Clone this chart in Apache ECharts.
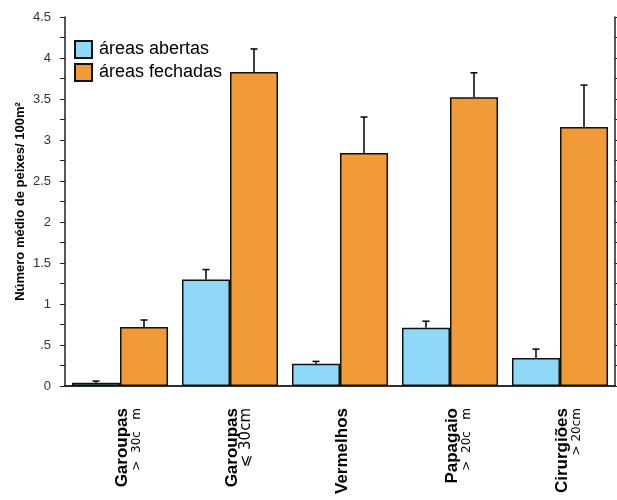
<!DOCTYPE html>
<html>
<head>
<meta charset="utf-8">
<script src="https://cdn.jsdelivr.net/npm/echarts@6/dist/echarts.min.js"></script>
<style>html,body{margin:0;padding:0;background:#fff;}#c{width:617px;height:500px;}</style>
</head>
<body>
<div id="c"></div>
<script>
const categories = ['Garoupas', 'Garoupas', 'Vermelhos', 'Papagaio', 'Cirurgiões'];
const subLabels = ['>  30c   m', '⩽ 30cm', ' ', '>  20c   m', '> 20cm'];
const seriesNames = ['áreas abertas', 'áreas fechadas'];
const abertas = [0.04, 1.30, 0.27, 0.71, 0.34];
const abertasErr = [0.02, 0.12, 0.03, 0.08, 0.11];
const fechadas = [0.72, 3.83, 2.84, 3.52, 3.16];
const fechadasErr = [0.085, 0.28, 0.44, 0.30, 0.51];
const yMin = 0, yMax = 4.5, yStep = 0.5;
const yLabelMap = {'0': '0', '0.5': '.5'};

const colors = ['#8fd8f7', '#f19b38'];
const catGap = 0.127;
const axisData = categories.map((c, i) => c + '|' + subLabels[i]);

function errSeries(vals, errs, sIdx) {
  return {
    type: 'custom',
    silent: true,
    z: 5,
    data: vals.map((v, i) => [i, v, v + errs[i]]),
    renderItem: function (params, api) {
      const i = api.value(0);
      const base = api.coord([i, api.value(1)]);
      const top = api.coord([i, api.value(2)]);
      const band = api.size([1, 0])[0];
      const bw = band * (1 - catGap) / 2;
      const x = base[0] + (sIdx === 0 ? -bw / 2 : bw / 2);
      const half = 3.5;
      return {
        type: 'group',
        children: [
          {type: 'line', shape: {x1: x, y1: base[1], x2: x, y2: top[1]}, style: {stroke: '#000', lineWidth: 1.5}},
          {type: 'line', shape: {x1: x - half, y1: top[1], x2: x + half, y2: top[1]}, style: {stroke: '#000', lineWidth: 1.5}}
        ]
      };
    }
  };
}

const chart = echarts.init(document.getElementById('c'), null, {renderer: 'canvas'});
chart.setOption({
  animation: false,
  backgroundColor: '#fff',
  grid: {left: 65, right: 2, top: 17, bottom: 114, containLabel: false},
  legend: {
    orient: 'vertical', left: 74, top: 40, padding: 0, itemWidth: 17, itemHeight: 17, itemGap: 4,
    icon: 'rect',
    data: seriesNames,
    textStyle: {fontFamily: 'Liberation Sans, Arial', fontSize: 18, color: '#000', lineHeight: 17, padding: [0, 0, 0, 2]},
    selectedMode: false
  },
  xAxis: [{
    type: 'category', position: 'bottom', data: axisData,
    axisLine: {lineStyle: {color: '#222', width: 1.5}},
    axisTick: {alignWithLabel: true, length: 5, lineStyle: {color: '#222', width: 1.5}},
    axisLabel: {
      rotate: 90, margin: 22, padding: [16, 0, 0, 0], interval: 0,
      formatter: function (v) {
        const p = v.split('|');
        const st = p[1].indexOf('⩽') >= 0 ? 's2' : 's';
        return '{b|' + p[0] + '}\n{' + st + '|' + p[1] + '}';
      },
      rich: {
        b: {fontFamily: 'Liberation Sans, Arial', fontSize: 17, fontWeight: 'bold', color: '#000', lineHeight: 17},
        s: {fontFamily: 'DejaVu Sans', fontSize: 12, color: '#000', lineHeight: 12},
        s2: {fontFamily: 'DejaVu Sans', fontSize: 15, color: '#000', lineHeight: 12}
      }
    }
  }, {
    type: 'category', position: 'top', data: axisData,
    axisLine: {lineStyle: {color: '#222', width: 1.5}},
    axisTick: {alignWithLabel: true, length: 4, lineStyle: {color: '#222', width: 1.5}},
    axisLabel: {show: false}
  }],
  yAxis: [{
    type: 'value', position: 'left', min: yMin, max: yMax, interval: yStep,
    name: 'Número médio de peixes/ 100m²', nameLocation: 'middle', nameGap: 38, nameMoveOverlap: false,
    nameTextStyle: {fontFamily: 'Liberation Sans, Arial', fontSize: 13, fontWeight: 'bold', color: '#000'},
    axisLine: {show: true, lineStyle: {color: '#222', width: 1.5}},
    axisTick: {show: true, length: 5, lineStyle: {color: '#222', width: 1}},
    minorTick: {show: true, splitNumber: 2, length: 5, lineStyle: {color: '#222', width: 1}},
    splitLine: {show: false},
    axisLabel: {
      margin: 14, fontFamily: 'Liberation Sans, Arial', fontSize: 13, color: '#333',
      formatter: function (v) { const k = String(v); return yLabelMap[k] !== undefined ? yLabelMap[k] : k; }
    }
  }, {
    type: 'value', position: 'right', min: yMin, max: yMax, interval: yStep,
    axisLine: {show: true, lineStyle: {color: '#222', width: 1.5}},
    axisTick: {show: true, length: 4, lineStyle: {color: '#222', width: 1}},
    minorTick: {show: true, splitNumber: 2, length: 4, lineStyle: {color: '#222', width: 1}},
    splitLine: {show: false},
    axisLabel: {show: false}
  }],
  series: [
    {name: seriesNames[0], type: 'bar', data: abertas, barGap: '0%', barCategoryGap: (catGap * 100) + '%',
     itemStyle: {color: colors[0], borderColor: '#111', borderWidth: 1.5}},
    {name: seriesNames[1], type: 'bar', data: fechadas, barGap: '0%', barCategoryGap: (catGap * 100) + '%',
     itemStyle: {color: colors[1], borderColor: '#111', borderWidth: 1.5}},
    errSeries(abertas, abertasErr, 0),
    errSeries(fechadas, fechadasErr, 1)
  ]
});
</script>
</body>
</html>
